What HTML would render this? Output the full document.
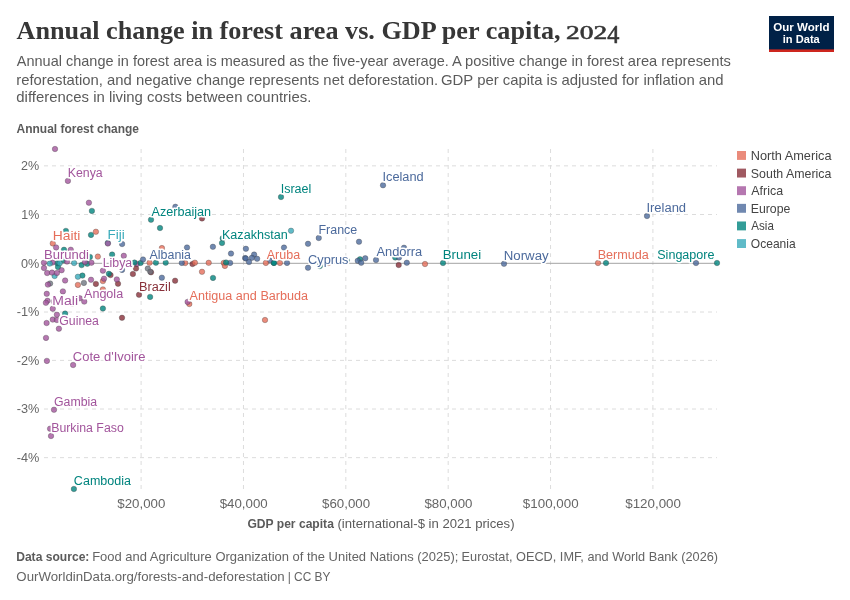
<!DOCTYPE html>
<html lang="en"><head><meta charset="utf-8"><title>Annual change in forest area vs. GDP per capita, 2024</title>
<style>
html,body{margin:0;padding:0;background:#fff;}
body{width:850px;height:600px;overflow:hidden;font-family:"Liberation Sans",sans-serif;}
svg{display:block;}
text{font-family:"Liberation Sans",sans-serif;}
.grid{stroke:#dcdcdc;stroke-width:1;stroke-dasharray:4 4;fill:none;}
.lab{stroke:#fff;stroke-width:3.2px;paint-order:stroke fill;stroke-linejoin:round;}
.num{stroke:#363636;stroke-width:.55px;}
.dot{fill-opacity:.8;stroke:#333;stroke-width:.6;stroke-opacity:.5;}
</style></head><body>
<svg width="850" height="600" viewBox="0 0 850 600">
<rect width="850" height="600" fill="#fff"/>
<rect x="769" y="16" width="65" height="36" fill="#002147"/><rect x="769" y="49.4" width="65" height="2.6" fill="#ce261e"/>
<g class="grid"><path d="M44 165.85H717"/><path d="M44 214.49H717"/><path d="M44 312.00H717"/><path d="M44 360.39H717"/><path d="M44 409.02H717"/><path d="M44 457.66H717"/><path d="M141.1 149V489"/><path d="M243.46 149V489"/><path d="M345.82 149V489"/><path d="M448.18 149V489"/><path d="M550.54 149V489"/><path d="M652.9 149V489"/></g>
<path d="M44 263.3H717" stroke="#a3a3a3" stroke-width="1" fill="none"/>
<text style="font-family:'Liberation Serif',serif"><tspan x="16.55" y="39.2" font-size="26" font-weight="bold" fill="#363636" textLength="544.06" lengthAdjust="spacingAndGlyphs">Annual change in forest area vs. GDP per capita,</tspan><tspan> </tspan><tspan class="num" x="566.05" y="39.2" font-size="19.6" font-weight="normal" fill="#363636" textLength="41.15" lengthAdjust="spacingAndGlyphs">202</tspan><tspan class="num" x="607.31" y="43.4" font-size="25" font-weight="normal" fill="#363636" textLength="12.13" lengthAdjust="spacingAndGlyphs">4</tspan></text>
<text><tspan x="16.8" y="66.2" font-size="14.6" font-weight="normal" fill="#5b5b5b" textLength="432.02" lengthAdjust="spacingAndGlyphs">Annual change in forest area is measured as the five-year average.</tspan><tspan> </tspan><tspan x="452.0" y="66.2" font-size="14.6" font-weight="normal" fill="#5b5b5b" textLength="278.85" lengthAdjust="spacingAndGlyphs">A positive change in forest area represents</tspan><tspan> </tspan><tspan x="16.28" y="85" font-size="14.6" font-weight="normal" fill="#5b5b5b" textLength="421.87" lengthAdjust="spacingAndGlyphs">reforestation, and negative change represents net deforestation.</tspan><tspan> </tspan><tspan x="441.04" y="85" font-size="14.6" font-weight="normal" fill="#5b5b5b" textLength="282.62" lengthAdjust="spacingAndGlyphs">GDP per capita is adjusted for inflation and</tspan><tspan> </tspan><tspan x="16.29" y="102.0" font-size="14.6" font-weight="normal" fill="#5b5b5b" textLength="295.02" lengthAdjust="spacingAndGlyphs">differences in living costs between countries.</tspan></text>
<text><tspan x="773.29" y="30.7" font-size="11.4" font-weight="bold" fill="#fff" textLength="56.25" lengthAdjust="spacingAndGlyphs">Our World</tspan><tspan> </tspan><tspan x="782.77" y="42.8" font-size="11.4" font-weight="bold" fill="#fff" textLength="37.02" lengthAdjust="spacingAndGlyphs">in Data</tspan></text>
<text x="16.56" y="133" font-size="12.3" font-weight="bold" fill="#5b5b5b" textLength="122.41" lengthAdjust="spacingAndGlyphs">Annual forest change</text>
<text x="21.09" y="170.2" font-size="12.4" fill="#666" textLength="18.19" lengthAdjust="spacingAndGlyphs">2%</text>
<text x="21.3" y="218.84" font-size="12.4" fill="#666" textLength="17.98" lengthAdjust="spacingAndGlyphs">1%</text>
<text x="20.99" y="268" font-size="12.4" fill="#666" textLength="18.29" lengthAdjust="spacingAndGlyphs">0%</text>
<text x="16.79" y="316.11" font-size="12.4" fill="#666" textLength="22.62" lengthAdjust="spacingAndGlyphs">-1%</text>
<text x="16.79" y="364.74" font-size="12.4" fill="#666" textLength="22.62" lengthAdjust="spacingAndGlyphs">-2%</text>
<text x="16.79" y="413.38" font-size="12.4" fill="#666" textLength="22.62" lengthAdjust="spacingAndGlyphs">-3%</text>
<text x="16.79" y="462.01" font-size="12.4" fill="#666" textLength="22.62" lengthAdjust="spacingAndGlyphs">-4%</text>
<text x="117.33" y="507.6" font-size="12.4" fill="#666" textLength="48.05" lengthAdjust="spacingAndGlyphs">$20,000</text>
<text x="219.69" y="507.6" font-size="12.4" fill="#666" textLength="48.05" lengthAdjust="spacingAndGlyphs">$40,000</text>
<text x="322.05" y="507.6" font-size="12.4" fill="#666" textLength="48.05" lengthAdjust="spacingAndGlyphs">$60,000</text>
<text x="424.41" y="507.6" font-size="12.4" fill="#666" textLength="48.05" lengthAdjust="spacingAndGlyphs">$80,000</text>
<text x="522.87" y="507.6" font-size="12.4" fill="#666" textLength="55.74" lengthAdjust="spacingAndGlyphs">$100,000</text>
<text x="625.23" y="507.6" font-size="12.4" fill="#666" textLength="55.74" lengthAdjust="spacingAndGlyphs">$120,000</text>
<text><tspan x="247.41" y="527.6" font-size="12.4" font-weight="bold" fill="#5b5b5b" textLength="86.45" lengthAdjust="spacingAndGlyphs">GDP per capita</tspan><tspan> </tspan><tspan x="337.51" y="527.6" font-size="12.4" font-weight="normal" fill="#5b5b5b" textLength="177.05" lengthAdjust="spacingAndGlyphs">(international-$ in 2021 prices)</tspan></text>
<text x="750.72" y="160" font-size="12.4" fill="#444" textLength="80.78" lengthAdjust="spacingAndGlyphs">North America</text>
<text x="750.85" y="178" font-size="12.4" fill="#444" textLength="80.54" lengthAdjust="spacingAndGlyphs">South America</text>
<text x="751.35" y="195" font-size="12.4" fill="#444" textLength="31.69" lengthAdjust="spacingAndGlyphs">Africa</text>
<text x="750.76" y="213" font-size="12.4" fill="#444" textLength="39.61" lengthAdjust="spacingAndGlyphs">Europe</text>
<text x="751.35" y="230" font-size="12.4" fill="#444" textLength="22.5" lengthAdjust="spacingAndGlyphs">Asia</text>
<text x="750.86" y="248" font-size="12.4" fill="#444" textLength="44.79" lengthAdjust="spacingAndGlyphs">Oceania</text>
<text><tspan x="16.18" y="560.6" font-size="12.6" font-weight="bold" fill="#5b5b5b" textLength="73.22" lengthAdjust="spacingAndGlyphs">Data source:</tspan><tspan> </tspan><tspan x="92.17" y="560.6" font-size="12.6" font-weight="normal" fill="#646464" textLength="366.2" lengthAdjust="spacingAndGlyphs">Food and Agriculture Organization of the United Nations (2025);</tspan><tspan> </tspan><tspan x="461.59" y="560.6" font-size="12.6" font-weight="normal" fill="#646464" textLength="256.46" lengthAdjust="spacingAndGlyphs">Eurostat, OECD, IMF, and World Bank (2026)</tspan></text>
<text><tspan x="16.37" y="581.2" font-size="12.6" font-weight="normal" fill="#646464" textLength="268.33" lengthAdjust="spacingAndGlyphs">OurWorldinData.org/forests-and-deforestation</tspan><tspan> </tspan><tspan x="287.65" y="581.2" font-size="12.6" font-weight="normal" fill="#646464" textLength="42.8" lengthAdjust="spacingAndGlyphs">| CC BY</tspan></text>
<rect x="737" y="151.00" width="9" height="8.9" fill="#E56E5A" fill-opacity=".8"/><rect x="737" y="168.62" width="9" height="8.9" fill="#883039" fill-opacity=".8"/><rect x="737" y="186.24" width="9" height="8.9" fill="#A2559C" fill-opacity=".8"/><rect x="737" y="203.86" width="9" height="8.9" fill="#4C6A9C" fill-opacity=".8"/><rect x="737" y="221.48" width="9" height="8.9" fill="#00847E" fill-opacity=".8"/><rect x="737" y="239.10" width="9" height="8.9" fill="#38AABA" fill-opacity=".8"/>
<g class="dot"><circle cx="50.1" cy="283.5" r="2.75" fill="#6E7581"/><circle cx="137" cy="263.9" r="2.75" fill="#A2559C"/><circle cx="202" cy="218.4" r="2.75" fill="#883039"/><circle cx="95.9" cy="283.9" r="2.75" fill="#883039"/><circle cx="136" cy="268.5" r="2.75" fill="#883039"/><circle cx="132.9" cy="274" r="2.75" fill="#883039"/><circle cx="192.5" cy="264" r="2.75" fill="#883039"/><circle cx="110.5" cy="275.1" r="2.75" fill="#883039"/><circle cx="118" cy="283.75" r="2.75" fill="#883039"/><circle cx="139" cy="294.8" r="2.75" fill="#883039"/><circle cx="122" cy="317.8" r="2.75" fill="#883039"/><circle cx="175.1" cy="280.7" r="2.75" fill="#883039"/><circle cx="398.7" cy="265" r="2.75" fill="#883039"/><circle cx="151" cy="272.3" r="2.75" fill="#883039"/><circle cx="91.9" cy="210.9" r="2.75" fill="#00847E"/><circle cx="65.9" cy="230.9" r="2.75" fill="#00847E"/><circle cx="91" cy="234.9" r="2.75" fill="#00847E"/><circle cx="64" cy="249.75" r="2.75" fill="#00847E"/><circle cx="89.9" cy="256.9" r="2.75" fill="#00847E"/><circle cx="57.4" cy="263.25" r="2.75" fill="#00847E"/><circle cx="58" cy="267" r="2.75" fill="#00847E"/><circle cx="63.6" cy="260.25" r="2.75" fill="#00847E"/><circle cx="81.6" cy="265.1" r="2.75" fill="#00847E"/><circle cx="87.25" cy="263.8" r="2.75" fill="#00847E"/><circle cx="82.4" cy="275.6" r="2.75" fill="#00847E"/><circle cx="65.1" cy="313.6" r="2.75" fill="#00847E"/><circle cx="73.9" cy="489" r="2.75" fill="#00847E"/><circle cx="151" cy="219.75" r="2.75" fill="#00847E"/><circle cx="160" cy="228" r="2.75" fill="#00847E"/><circle cx="112.1" cy="254.6" r="2.75" fill="#00847E"/><circle cx="140.6" cy="262.9" r="2.75" fill="#00847E"/><circle cx="134.5" cy="262.6" r="2.75" fill="#00847E"/><circle cx="155.9" cy="262.7" r="2.75" fill="#00847E"/><circle cx="165.7" cy="262.7" r="2.75" fill="#00847E"/><circle cx="108.9" cy="273.8" r="2.75" fill="#00847E"/><circle cx="150.1" cy="296.9" r="2.75" fill="#00847E"/><circle cx="102.9" cy="308.5" r="2.75" fill="#00847E"/><circle cx="281" cy="197" r="2.75" fill="#00847E"/><circle cx="222" cy="243" r="2.75" fill="#00847E"/><circle cx="222.7" cy="238.2" r="2.75" fill="#00847E"/><circle cx="213" cy="277.9" r="2.75" fill="#00847E"/><circle cx="273.9" cy="262.9" r="2.75" fill="#00847E"/><circle cx="273.9" cy="262.9" r="2.75" fill="#00847E"/><circle cx="319.8" cy="266.1" r="2.75" fill="#00847E"/><circle cx="346.8" cy="260.4" r="2.75" fill="#00847E"/><circle cx="360" cy="259.3" r="2.75" fill="#00847E"/><circle cx="395.25" cy="257.5" r="2.75" fill="#00847E"/><circle cx="443" cy="263" r="2.75" fill="#00847E"/><circle cx="606" cy="263" r="2.75" fill="#00847E"/><circle cx="717" cy="263" r="2.75" fill="#00847E"/><circle cx="107.75" cy="242.9" r="2.75" fill="#38AABA"/><circle cx="74.1" cy="263" r="2.75" fill="#38AABA"/><circle cx="54.6" cy="276" r="2.75" fill="#38AABA"/><circle cx="77.9" cy="276.75" r="2.75" fill="#38AABA"/><circle cx="291" cy="230.75" r="2.75" fill="#38AABA"/><circle cx="175.4" cy="206.8" r="2.75" fill="#4C6A9C"/><circle cx="122.1" cy="244" r="2.75" fill="#4C6A9C"/><circle cx="187" cy="247.5" r="2.75" fill="#4C6A9C"/><circle cx="212.9" cy="246.8" r="2.75" fill="#4C6A9C"/><circle cx="143" cy="259.5" r="2.75" fill="#4C6A9C"/><circle cx="122" cy="269.9" r="2.75" fill="#4C6A9C"/><circle cx="231" cy="253.6" r="2.75" fill="#4C6A9C"/><circle cx="245.9" cy="248.8" r="2.75" fill="#4C6A9C"/><circle cx="284" cy="247.6" r="2.75" fill="#4C6A9C"/><circle cx="308" cy="243.8" r="2.75" fill="#4C6A9C"/><circle cx="318.75" cy="238" r="2.75" fill="#4C6A9C"/><circle cx="254.1" cy="254.6" r="2.75" fill="#4C6A9C"/><circle cx="245.1" cy="258" r="2.75" fill="#4C6A9C"/><circle cx="245.9" cy="258.5" r="2.75" fill="#4C6A9C"/><circle cx="251.9" cy="257.85" r="2.75" fill="#4C6A9C"/><circle cx="257.1" cy="258.75" r="2.75" fill="#4C6A9C"/><circle cx="249" cy="262" r="2.75" fill="#4C6A9C"/><circle cx="230.1" cy="262.9" r="2.75" fill="#4C6A9C"/><circle cx="161.85" cy="277.7" r="2.75" fill="#4C6A9C"/><circle cx="269.4" cy="260.25" r="2.75" fill="#4C6A9C"/><circle cx="287" cy="262.9" r="2.75" fill="#4C6A9C"/><circle cx="308" cy="267.75" r="2.75" fill="#4C6A9C"/><circle cx="359" cy="241.75" r="2.75" fill="#4C6A9C"/><circle cx="357.75" cy="260.8" r="2.75" fill="#4C6A9C"/><circle cx="361.2" cy="262.75" r="2.75" fill="#4C6A9C"/><circle cx="365.25" cy="258.25" r="2.75" fill="#4C6A9C"/><circle cx="376" cy="260" r="2.75" fill="#4C6A9C"/><circle cx="404" cy="247.75" r="2.75" fill="#4C6A9C"/><circle cx="399" cy="257.5" r="2.75" fill="#4C6A9C"/><circle cx="406.8" cy="262.75" r="2.75" fill="#4C6A9C"/><circle cx="383" cy="185.25" r="2.75" fill="#4C6A9C"/><circle cx="504" cy="263.8" r="2.75" fill="#4C6A9C"/><circle cx="647" cy="216" r="2.75" fill="#4C6A9C"/><circle cx="696" cy="263" r="2.75" fill="#4C6A9C"/><circle cx="95.9" cy="231.75" r="2.75" fill="#E56E5A"/><circle cx="52.75" cy="243.4" r="2.75" fill="#E56E5A"/><circle cx="97.85" cy="256.6" r="2.75" fill="#E56E5A"/><circle cx="77.9" cy="284.9" r="2.75" fill="#E56E5A"/><circle cx="72.3" cy="303.5" r="2.75" fill="#E56E5A"/><circle cx="161.9" cy="248.1" r="2.75" fill="#E56E5A"/><circle cx="149.6" cy="262.7" r="2.75" fill="#E56E5A"/><circle cx="185.2" cy="263" r="2.75" fill="#E56E5A"/><circle cx="194.9" cy="262.7" r="2.75" fill="#E56E5A"/><circle cx="208.7" cy="262.8" r="2.75" fill="#E56E5A"/><circle cx="202" cy="271.8" r="2.75" fill="#E56E5A"/><circle cx="102.9" cy="281.1" r="2.75" fill="#E56E5A"/><circle cx="102.9" cy="289.4" r="2.75" fill="#E56E5A"/><circle cx="189.3" cy="304" r="2.75" fill="#E56E5A"/><circle cx="223.75" cy="262.9" r="2.75" fill="#E56E5A"/><circle cx="224.9" cy="265.9" r="2.75" fill="#E56E5A"/><circle cx="265.85" cy="262.9" r="2.75" fill="#E56E5A"/><circle cx="279.9" cy="262.9" r="2.75" fill="#E56E5A"/><circle cx="328.5" cy="262.9" r="2.75" fill="#E56E5A"/><circle cx="425" cy="264" r="2.75" fill="#E56E5A"/><circle cx="598" cy="263" r="2.75" fill="#E56E5A"/><circle cx="265" cy="320" r="2.75" fill="#E56E5A"/><circle cx="55" cy="149" r="2.75" fill="#A2559C"/><circle cx="67.9" cy="180.9" r="2.75" fill="#A2559C"/><circle cx="88.9" cy="202.7" r="2.75" fill="#A2559C"/><circle cx="56.1" cy="247.5" r="2.75" fill="#A2559C"/><circle cx="70.75" cy="249.75" r="2.75" fill="#A2559C"/><circle cx="43.9" cy="262.7" r="2.75" fill="#A2559C"/><circle cx="52.6" cy="262.5" r="2.75" fill="#A2559C"/><circle cx="67" cy="261.6" r="2.75" fill="#A2559C"/><circle cx="85" cy="262.1" r="2.75" fill="#A2559C"/><circle cx="91.4" cy="262.7" r="2.75" fill="#A2559C"/><circle cx="44" cy="268" r="2.75" fill="#A2559C"/><circle cx="61.6" cy="270.2" r="2.75" fill="#A2559C"/><circle cx="47.15" cy="273" r="2.75" fill="#A2559C"/><circle cx="52" cy="272.6" r="2.75" fill="#A2559C"/><circle cx="56.9" cy="273" r="2.75" fill="#A2559C"/><circle cx="65.1" cy="280.5" r="2.75" fill="#A2559C"/><circle cx="91" cy="279.75" r="2.75" fill="#A2559C"/><circle cx="47.9" cy="284.6" r="2.75" fill="#A2559C"/><circle cx="62.9" cy="291.4" r="2.75" fill="#A2559C"/><circle cx="46.75" cy="293.8" r="2.75" fill="#A2559C"/><circle cx="47.5" cy="300.8" r="2.75" fill="#A2559C"/><circle cx="45.9" cy="302.8" r="2.75" fill="#A2559C"/><circle cx="53.8" cy="301.6" r="2.75" fill="#A2559C"/><circle cx="79.75" cy="298.25" r="2.75" fill="#A2559C"/><circle cx="84.25" cy="301.6" r="2.75" fill="#A2559C"/><circle cx="52.75" cy="308.75" r="2.75" fill="#A2559C"/><circle cx="56.9" cy="314.75" r="2.75" fill="#A2559C"/><circle cx="52.75" cy="319.6" r="2.75" fill="#A2559C"/><circle cx="56.9" cy="320" r="2.75" fill="#A2559C"/><circle cx="46.6" cy="323" r="2.75" fill="#A2559C"/><circle cx="58.9" cy="328.7" r="2.75" fill="#A2559C"/><circle cx="46" cy="337.9" r="2.75" fill="#A2559C"/><circle cx="46.9" cy="360.9" r="2.75" fill="#A2559C"/><circle cx="73.1" cy="365" r="2.75" fill="#A2559C"/><circle cx="54" cy="409.75" r="2.75" fill="#A2559C"/><circle cx="50.1" cy="428.7" r="2.75" fill="#A2559C"/><circle cx="51" cy="436" r="2.75" fill="#A2559C"/><circle cx="123.8" cy="255.8" r="2.75" fill="#A2559C"/><circle cx="102.9" cy="270.7" r="2.75" fill="#A2559C"/><circle cx="116.8" cy="279.4" r="2.75" fill="#A2559C"/><circle cx="187.6" cy="301.9" r="2.75" fill="#A2559C"/><circle cx="104" cy="278.7" r="2.75" fill="#A2559C"/><circle cx="107.9" cy="243.5" r="2.75" fill="#A2559C"/><circle cx="83.9" cy="282.9" r="2.75" fill="#6E7581"/><circle cx="147.8" cy="268.6" r="2.75" fill="#6E7581"/><circle cx="150.3" cy="271.7" r="2.75" fill="#6E7581"/><circle cx="49.75" cy="263.6" r="2.75" fill="#38AABA"/><circle cx="59.7" cy="263.2" r="2.75" fill="#38AABA"/><circle cx="226" cy="262.5" r="2.75" fill="#00847E"/><circle cx="181.8" cy="262.9" r="2.75" fill="#4C6A9C"/></g>
<text class="lab" x="67.75" y="177" font-size="12.3" fill="#A2559C" textLength="34.88" lengthAdjust="spacingAndGlyphs">Kenya</text>
<text class="lab" x="52.77" y="240" font-size="12.3" fill="#E56E5A" textLength="27.69" lengthAdjust="spacingAndGlyphs">Haiti</text>
<text class="lab" x="107.61" y="239" font-size="12.3" fill="#38AABA" textLength="17.18" lengthAdjust="spacingAndGlyphs">Fiji</text>
<text class="lab" x="44.04" y="259" font-size="12.3" fill="#A2559C" textLength="44.9" lengthAdjust="spacingAndGlyphs">Burundi</text>
<text class="lab" x="102.75" y="267" font-size="12.3" fill="#A2559C" textLength="29.41" lengthAdjust="spacingAndGlyphs">Libya</text>
<text class="lab" x="52.36" y="305" font-size="12.3" fill="#A2559C" textLength="25.64" lengthAdjust="spacingAndGlyphs">Mali</text>
<text class="lab" x="84.0" y="298" font-size="12.3" fill="#A2559C" textLength="39.15" lengthAdjust="spacingAndGlyphs">Angola</text>
<text class="lab" x="59.3" y="325" font-size="12.3" fill="#A2559C" textLength="39.61" lengthAdjust="spacingAndGlyphs">Guinea</text>
<text class="lab" x="72.87" y="361" font-size="12.3" fill="#A2559C" textLength="72.56" lengthAdjust="spacingAndGlyphs">Cote d'Ivoire</text>
<text class="lab" x="54.0" y="406" font-size="12.3" fill="#A2559C" textLength="43.06" lengthAdjust="spacingAndGlyphs">Gambia</text>
<text class="lab" x="51.2" y="432" font-size="12.3" fill="#A2559C" textLength="72.56" lengthAdjust="spacingAndGlyphs">Burkina Faso</text>
<text class="lab" x="73.89" y="485" font-size="12.3" fill="#00847E" textLength="57.07" lengthAdjust="spacingAndGlyphs">Cambodia</text>
<text class="lab" x="151.5" y="216" font-size="12.3" fill="#00847E" textLength="59.63" lengthAdjust="spacingAndGlyphs">Azerbaijan</text>
<text class="lab" x="149.5" y="259" font-size="12.3" fill="#4C6A9C" textLength="41.53" lengthAdjust="spacingAndGlyphs">Albania</text>
<text class="lab" x="138.97" y="291" font-size="12.3" fill="#883039" textLength="31.81" lengthAdjust="spacingAndGlyphs">Brazil</text>
<text class="lab" x="189.6" y="300" font-size="12.3" fill="#E56E5A" textLength="118.46" lengthAdjust="spacingAndGlyphs">Antigua and Barbuda</text>
<text class="lab" x="280.73" y="193" font-size="12.3" fill="#00847E" textLength="30.61" lengthAdjust="spacingAndGlyphs">Israel</text>
<text class="lab" x="221.98" y="239" font-size="12.3" fill="#00847E" textLength="65.81" lengthAdjust="spacingAndGlyphs">Kazakhstan</text>
<text class="lab" x="266.75" y="259" font-size="12.3" fill="#E56E5A" textLength="33.38" lengthAdjust="spacingAndGlyphs">Aruba</text>
<text class="lab" x="318.49" y="234" font-size="12.3" fill="#4C6A9C" textLength="38.75" lengthAdjust="spacingAndGlyphs">France</text>
<text class="lab" x="308.08" y="264" font-size="12.3" fill="#4C6A9C" textLength="40.39" lengthAdjust="spacingAndGlyphs">Cyprus</text>
<text class="lab" x="376.5" y="256" font-size="12.3" fill="#4C6A9C" textLength="45.7" lengthAdjust="spacingAndGlyphs">Andorra</text>
<text class="lab" x="382.46" y="181" font-size="12.3" fill="#4C6A9C" textLength="41.22" lengthAdjust="spacingAndGlyphs">Iceland</text>
<text class="lab" x="442.72" y="259" font-size="12.3" fill="#00847E" textLength="38.39" lengthAdjust="spacingAndGlyphs">Brunei</text>
<text class="lab" x="503.72" y="260" font-size="12.3" fill="#4C6A9C" textLength="44.96" lengthAdjust="spacingAndGlyphs">Norway</text>
<text class="lab" x="597.67" y="259" font-size="12.3" fill="#E56E5A" textLength="51.23" lengthAdjust="spacingAndGlyphs">Bermuda</text>
<text class="lab" x="646.45" y="212" font-size="12.3" fill="#4C6A9C" textLength="39.66" lengthAdjust="spacingAndGlyphs">Ireland</text>
<text class="lab" x="657.24" y="259" font-size="12.3" fill="#00847E" textLength="57.25" lengthAdjust="spacingAndGlyphs">Singapore</text>
</svg>
</body></html>
